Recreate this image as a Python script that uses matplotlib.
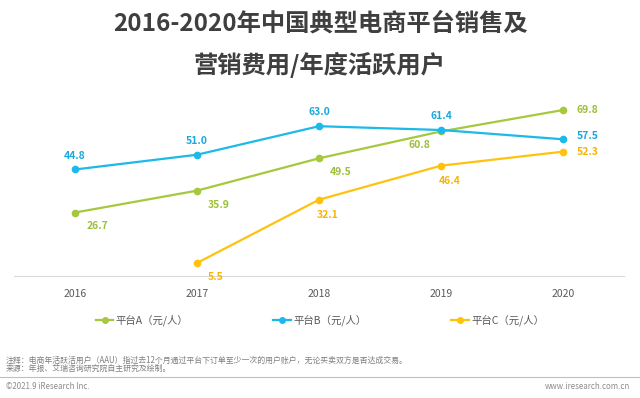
import matplotlib
matplotlib.use('Agg')
import matplotlib.pyplot as plt
from matplotlib.lines import Line2D

plt.rcParams['font.family'] = ['Noto Sans CJK SC', 'DejaVu Sans']

years = ['2016', '2017', '2018', '2019', '2020']
platform_a = [26.7, 35.9, 49.5, 60.8, 69.8]
platform_b = [44.8, 51.0, 63.0, 61.4, 57.5]
platform_c = [None, 5.5, 32.1, 46.4, 52.3]
names = ['平台A（元/人）', '平台B（元/人）', '平台C（元/人）']

green = '#A6C83C'
blue = '#1CB9E9'
gold = '#FFC20E'

fig = plt.figure(figsize=(6.4, 3.98), dpi=100)
ax = fig.add_axes([0.022, 0.3065, 0.953, 0.478])

x = list(range(len(years)))
ax.plot(x, platform_a, color=green, lw=1.6, marker='o', ms=4.5)
ax.plot(x, platform_b, color=blue, lw=1.6, marker='o', ms=4.5)
xc = [i for i, v in zip(x, platform_c) if v is not None]
yc = [v for v in platform_c if v is not None]
ax.plot(xc, yc, color=gold, lw=1.6, marker='o', ms=4.5)

# label offsets in points (dx, dy, ha)
off_a = [(8, -10, 'left'), (8, -10, 'left'), (8, -10, 'left'), (-8, -10, 'right'), (10, 0, 'left')]
off_b = [(0, 10, 'center'), (0, 10, 'center'), (0, 10, 'center'), (0, 10, 'center'), (10, 2, 'left')]
off_c = [(8, -10, 'left'), (6, -11, 'center'), (6, -11, 'center'), (10, 0, 'left')]

for series, offs, col, xs in [(platform_a, off_a, '#9DBF3A', x),
                              (platform_b, off_b, '#1BA8DC', x),
                              (yc, off_c, '#F7B500', xc)]:
    for xi, v, (dx, dy, ha) in zip(xs, series, offs):
        ax.annotate(f'{v:.1f}', (xi, v), xytext=(dx, dy), textcoords='offset points',
                    ha=ha, va='center', color=col, fontsize=7.5, fontweight='bold')

ax.set_xlim(-0.5, 4.5)
ax.set_ylim(0, 80)
ax.set_xticks(x)
ax.set_xticklabels(years, color='#595959', fontsize=7.5)
ax.tick_params(axis='x', length=0, pad=9)
ax.set_yticks([])
for s in ['top', 'right', 'left']:
    ax.spines[s].set_visible(False)
ax.spines['bottom'].set_color('#D9D9D9')

handles = [Line2D([0], [0], color=c, lw=1.6, marker='o', ms=4) for c in (green, blue, gold)]
fig.legend(handles, names, loc='center', bbox_to_anchor=(0.5, 0.196), ncol=3,
           frameon=False, fontsize=7.5, handlelength=1.7, columnspacing=8.1,
           handletextpad=0.25, labelcolor='#595959')

fig.text(0.5, 0.94, '2016-2020年中国典型电商平台销售及', ha='center', va='center',
         fontsize=17.5, fontweight='bold', color='#3F3F3F')
fig.text(0.5, 0.836, '营销费用/年度活跃用户', ha='center', va='center',
         fontsize=17.5, fontweight='bold', color='#3F3F3F')

fig.text(0.009, 0.0955, '注释：电商年活跃活用户（AAU）指过去12个月通过平台下订单至少一次的用户账户，无论买卖双方是否达成交易。',
         fontsize=5.7, color='#7F7F7F', va='center')
fig.text(0.009, 0.0754, '来源：年报、艾瑞咨询研究院自主研究及绘制。',
         fontsize=5.7, color='#7F7F7F', va='center')
fig.add_artist(Line2D([0.0, 1.0], [0.053, 0.053], color='#BFBFBF', lw=0.8))
fig.text(0.009, 0.028, '©2021.9 iResearch Inc.', fontsize=5.7, color='#8C8C8C', va='center')
fig.text(0.985, 0.028, 'www.iresearch.com.cn', fontsize=5.7, color='#8C8C8C', va='center', ha='right')

fig.savefig('out.png', dpi=100)
